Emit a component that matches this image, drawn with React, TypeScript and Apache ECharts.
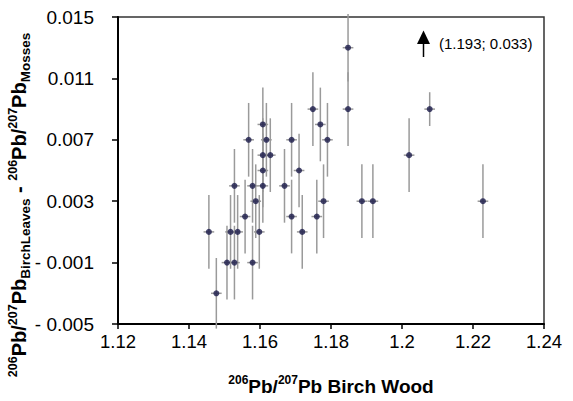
import React, { useEffect, useRef } from "react";
import * as echarts from "echarts";

// 206Pb/207Pb in birch wood (x)
const woodRatio = [
  1.1456, 1.1477, 1.1507, 1.1517, 1.1528, 1.1528, 1.1537, 1.1558, 1.1568, 1.1579,
  1.1579, 1.1588, 1.1598, 1.1608, 1.1608, 1.1608, 1.1608, 1.1618, 1.1629, 1.1669,
  1.1689, 1.1689, 1.171, 1.1719, 1.1749, 1.176, 1.177, 1.1779, 1.179, 1.1848,
  1.1848, 1.1887, 1.1918, 1.202, 1.2078, 1.2228,
];
// 206Pb/207Pb birch leaves minus 206Pb/207Pb mosses (y)
const leafMossDiff = [
  0.001, -0.003, -0.001, 0.001, 0.004, -0.001, 0.001, 0.002, 0.007, 0.004,
  -0.001, 0.003, 0.001, 0.008, 0.006, 0.005, 0.004, 0.007, 0.006, 0.004,
  0.007, 0.002, 0.005, 0.001, 0.009, 0.002, 0.008, 0.003, 0.007, 0.013,
  0.009, 0.003, 0.003, 0.006, 0.009, 0.003,
];
// vertical error (y) per point
const diffErr = [
  0.0024, 0.0023, 0.0024, 0.0024, 0.0024, 0.0024, 0.0024, 0.0024, 0.0024, 0.0024,
  0.0024, 0.0024, 0.0024, 0.0024, 0.0024, 0.0024, 0.0024, 0.0024, 0.0024, 0.0024,
  0.0024, 0.0024, 0.0024, 0.0024, 0.0024, 0.0024, 0.0024, 0.0024, 0.0024, 0.0022,
  0.0024, 0.0024, 0.0024, 0.0024, 0.0011, 0.0024,
];
// horizontal error (x) per point
const woodErr = woodRatio.map(() => 0.0015);

const yTickValues = [-0.005, -0.001, 0.003, 0.007, 0.011, 0.015];
const Y_SHIFT = 0.005; // axis is drawn from 0 so that ticks start at a multiple of the interval
const outlier = "(1.193; 0.033)";

const FONT = "'Liberation Sans', Arial, sans-serif";

export default function App() {
  const ref = useRef<HTMLDivElement>(null);
  useEffect(() => {
    document.body.style.margin = "0";
    const chart = echarts.init(ref.current!, null, { renderer: "svg" });
    const errData = woodRatio.map((x, i) => [x, leafMossDiff[i] + Y_SHIFT, woodErr[i], diffErr[i]]);
    const ptData = woodRatio.map((x, i) => [x, leafMossDiff[i] + Y_SHIFT]);
    const richX = {
      sup: { fontSize: 12, fontWeight: "bold", fontFamily: FONT, color: "#000", lineHeight: 12, verticalAlign: "top" },
      main: { fontSize: 19, fontWeight: "bold", fontFamily: FONT, color: "#000", lineHeight: 25, verticalAlign: "middle" },
    };
    const richY = {
      sup: { fontSize: 12.5, fontWeight: "bold", fontFamily: FONT, fill: "#000", lineHeight: 12, verticalAlign: "top" },
      main: { fontSize: 20, fontWeight: "bold", fontFamily: FONT, fill: "#000", lineHeight: 26, verticalAlign: "middle" },
      sub: { fontSize: 13.5, fontWeight: "bold", fontFamily: FONT, fill: "#000", lineHeight: 14, verticalAlign: "bottom" },
    };
    chart.setOption({
      animation: false,
      backgroundColor: "#fff",
      grid: {
        left: 118,
        right: 29,
        top: 17,
        bottom: 66,
        show: true,
        borderColor: "#333",
        borderWidth: 1.5,
      },
      xAxis: {
        type: "value",
        min: 1.12,
        max: 1.24,
        interval: 0.02,
        axisLine: { show: true, onZero: false, lineStyle: { color: "#000", width: 2 } },
        axisTick: { show: true, inside: false, length: 5, lineStyle: { color: "#000", width: 1.5 } },
        splitLine: { show: false },
        axisLabel: {
          fontSize: 18.5,
          fontFamily: FONT,
          color: "#000",
          margin: 8,
          formatter: (v: number) => String(Math.round(v * 100) / 100),
        },
        name: "{sup|206}{main|Pb/}{sup|207}{main|Pb Birch Wood}",
        nameLocation: "middle",
        nameGap: 50,
        nameTextStyle: { rich: richX },
      },
      yAxis: {
        type: "value",
        min: 0,
        max: 0.02,
        interval: 0.004,
        axisLine: { show: true, onZero: false, lineStyle: { color: "#000", width: 2 } },
        axisTick: { show: true, inside: false, length: 6, lineStyle: { color: "#000", width: 1.5 } },
        splitLine: { show: false },
        axisLabel: {
          fontSize: 19,
          fontFamily: FONT,
          color: "#000",
          margin: 24,
          formatter: (v: number) => {
            const val = Math.round((v - Y_SHIFT) * 1000) / 1000;
            const match = yTickValues.find((t) => Math.abs(t - val) < 1e-9);
            const t = match === undefined ? val : match;
            return t < 0 ? "- " + Math.abs(t).toFixed(3) : t.toFixed(3);
          },
        },
      },
      series: [
        {
          type: "custom",
          clip: false,
          z: 2,
          data: errData,
          encode: { x: 0, y: 1 },
          renderItem: (params: any, api: any) => {
            const x = api.value(0);
            const y = api.value(1);
            const ex = api.value(2);
            const ey = api.value(3);
            const top = api.coord([x, y + ey]);
            const bot = api.coord([x, y - ey]);
            const left = api.coord([x - ex, y]);
            const right = api.coord([x + ex, y]);
            return {
              type: "group",
              children: [
                {
                  type: "line",
                  shape: { x1: top[0], y1: top[1], x2: bot[0], y2: bot[1] },
                  style: { stroke: "#9a9a9a", lineWidth: 1.5 },
                },
                {
                  type: "line",
                  shape: { x1: left[0], y1: left[1], x2: right[0], y2: right[1] },
                  style: { stroke: "#9a9a9a", lineWidth: 1.5 },
                },
              ],
            };
          },
        },
        {
          type: "scatter",
          z: 3,
          data: ptData,
          symbol: "circle",
          symbolSize: 6,
          itemStyle: { color: "#1a1a4a", borderWidth: 0 },
        },
      ],
      graphic: [
        {
          type: "text",
          x: 19,
          y: 205,
          rotation: Math.PI / 2,
          z: 1,
          style: {
            text:
              "{sup|206}{main|Pb/}{sup|207}{main|Pb}{sub|BirchLeaves}{main| - }{sup|206}{main|Pb/}{sup|207}{main|Pb}{sub|Mosses}",
            rich: richY,
            align: "center",
            verticalAlign: "middle",
          },
        },
        {
          type: "polygon",
          shape: { points: [[417, 44], [430, 44], [423.5, 30.5]] },
          style: { fill: "#000" },
        },
        {
          type: "line",
          shape: { x1: 423.5, y1: 43, x2: 423.5, y2: 57 },
          style: { stroke: "#000", lineWidth: 1.5 },
        },
        {
          type: "text",
          x: 439,
          y: 43,
          style: {
            text: outlier,
            fontSize: 15,
            fontFamily: FONT,
            fill: "#000",
            verticalAlign: "middle",
            align: "left",
          },
        },
      ],
    });
    return () => chart.dispose();
  }, []);
  return <div ref={ref} style={{ width: 573, height: 401 }} />;
}
